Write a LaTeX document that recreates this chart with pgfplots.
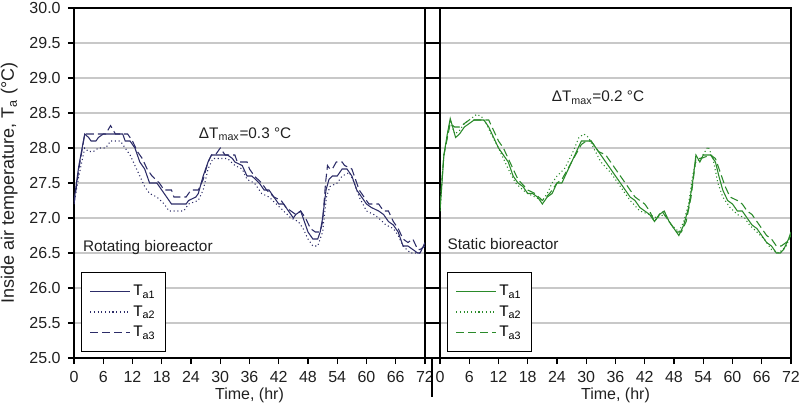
\documentclass[border=0pt]{standalone}
\usepackage{fontspec}
\setmainfont{Liberation Sans}
\usepackage{pgfplots}
\pgfplotsset{compat=1.18}

\definecolor{navyline}{HTML}{2C2C68}
\definecolor{greenline}{HTML}{2A8A2A}
\definecolor{gridgray}{HTML}{C8C8C8}
\definecolor{txt}{HTML}{202020}

\pgfplotstableread{
x y
0 27.23
0.5 27.5
1 27.75
2.2 28.2
3 28.15
3.5 28.1
4.5 28.1
5 28.15
6 28.2
10 28.2
10.5 28.1
11.5 28.1
12.5 28.0
13.5 27.8
14.5 27.7
15.5 27.5
17 27.5
18.5 27.35
19.5 27.25
20 27.2
23 27.2
23.5 27.25
25 27.3
25.5 27.35
26.5 27.6
27.5 27.8
28.2 27.9
31.5 27.9
32.5 27.85
33 27.8
34.5 27.75
35.5 27.6
36.5 27.6
38 27.5
39 27.4
40 27.4
41 27.3
42 27.2
43 27.2
44 27.1
45 27.0
45.5 27.05
46.5 27.1
47 27.0
48 26.8
49 26.7
50 26.7
50.5 26.8
51 27.0
51.7 27.4
52.3 27.55
53 27.6
54 27.6
55 27.7
56 27.7
57 27.6
58 27.4
59 27.3
60 27.2
61 27.15
62.5 27.1
63.5 27.05
64.5 26.95
65.5 26.9
66.5 26.8
67.5 26.6
68.5 26.6
69.5 26.55
70.5 26.5
71 26.5
72 26.65
}\rotA

\pgfplotstableread{
x y
0 27.2
1 27.6
2.2 28.0
3 27.95
4 27.95
5 28.0
6.5 28.0
7.5 28.1
9.5 28.1
10.5 28.0
11.5 27.9
12.5 27.75
13.5 27.6
14.5 27.45
15.5 27.35
17 27.3
18.5 27.2
19.5 27.1
22.5 27.1
23.5 27.2
25.5 27.25
26.5 27.4
27.5 27.7
28.5 27.85
31.5 27.85
33 27.75
34.5 27.7
35.5 27.55
37 27.5
38.5 27.35
40 27.3
41.5 27.2
43 27.1
44.5 27.0
46 26.95
47 26.85
48 26.7
49 26.6
50 26.6
51 26.8
51.8 27.3
52.5 27.45
54 27.5
55 27.6
56.5 27.65
57.5 27.5
58.5 27.3
60 27.1
61.5 27.05
62.5 27.0
64 26.9
65.5 26.85
66.5 26.75
67.5 26.6
69 26.5
71 26.5
}\rotB

\pgfplotstableread{
x y
0 27.2
1 27.7
2.2 28.2
3 28.2
5 28.2
6.5 28.2
7.5 28.32
8.5 28.2
11 28.2
12 28.1
13 27.95
14 27.85
15 27.7
16 27.6
17.5 27.5
18.5 27.4
20 27.4
20.5 27.3
23 27.3
24 27.4
25.5 27.4
26.5 27.55
27.5 27.8
28.2 27.9
29 27.9
30 28.0
31 27.9
33 27.9
33.5 27.8
35.5 27.8
36 27.7
37 27.6
38.5 27.5
39.5 27.4
41 27.3
42.5 27.25
43.5 27.15
44.5 27.1
45.5 27.05
46.5 27.1
47.5 27.0
48.5 26.85
49.5 26.8
50.5 26.8
51 26.95
51.6 27.5
52 27.75
52.5 27.7
53 27.7
53.8 27.8
55 27.8
55.5 27.75
57 27.7
57.5 27.6
58.5 27.4
59.5 27.3
60.5 27.2
62.5 27.2
63.5 27.1
64.5 27.1
65.5 26.95
66.5 26.85
67.5 26.7
68.5 26.65
69.5 26.7
70.5 26.55
71 26.55
72 26.6
}\rotC

\pgfplotstableread{
x y
0 27.1
0.3 27.4
0.8 27.9
1.5 28.2
2.1 28.42
2.6 28.3
3.2 28.15
4 28.2
5 28.3
6 28.35
7 28.4
9 28.4
10 28.3
11 28.15
12 28.0
13 27.9
14 27.8
15 27.6
16 27.5
17 27.45
18 27.35
19 27.35
20 27.3
21 27.2
22 27.3
23 27.35
24 27.5
25 27.5
26 27.65
27 27.8
28 27.95
29 28.1
31 28.1
32 28.0
33 27.9
34 27.8
35 27.7
36 27.6
37 27.5
38 27.4
39 27.3
40 27.25
41 27.15
42 27.1
43 27.05
44 26.95
45 27.05
46 27.1
47 26.95
48 26.85
49 26.75
50 26.9
51 27.15
51.8 27.5
52.5 27.9
53.3 27.8
54 27.9
55.5 27.9
56.5 27.8
57.2 27.6
58 27.4
59 27.25
60 27.2
61 27.1
62 27.1
63 27.0
64 26.9
65 26.85
66 26.75
67 26.65
68 26.6
69 26.5
69.8 26.5
70.5 26.55
71.5 26.7
72 26.8
}\staA

\pgfplotstableread{
x y
0 27.1
0.8 27.9
2.1 28.4
3 28.2
4 28.25
5 28.35
6 28.4
7.5 28.48
8.5 28.45
9.5 28.35
10.5 28.2
12 28.0
14 27.7
15.5 27.5
17 27.4
18 27.35
19.5 27.3
21 27.25
22 27.35
23 27.5
24 27.6
25.5 27.7
27 27.9
28.5 28.15
29.5 28.2
30.5 28.15
31.5 28.0
33 27.8
35 27.65
37 27.45
39 27.25
41 27.1
43 27.05
44.5 27.0
46 27.05
47.5 26.9
49 26.8
50 26.95
51 27.2
51.8 27.6
52.5 27.8
53.5 27.85
55 28.02
56 27.85
57 27.5
58 27.3
59.5 27.15
61 27.05
62.5 27.0
63.5 26.9
65 26.8
66.5 26.7
68 26.55
69.5 26.5
71 26.6
72 26.75
}\staB

\pgfplotstableread{
x y
0 27.2
0.8 27.9
2.1 28.35
3 28.3
4 28.3
5 28.35
6 28.4
9 28.4
10 28.4
11 28.25
12 28.1
13 28.0
14 27.85
15 27.7
16 27.55
18 27.4
19.5 27.35
21 27.25
22.5 27.35
24 27.5
25 27.55
27 27.8
29 28.05
30 28.1
31 28.1
32.5 27.95
34 27.9
36 27.7
38 27.5
40 27.3
41 27.25
42 27.2
43 27.1
44 26.95
45.5 27.1
47 26.95
48.5 26.8
49.5 26.8
50.5 26.95
51.5 27.3
52.5 27.85
53.5 27.85
55.5 27.9
56.5 27.85
57.5 27.65
58.5 27.45
59.5 27.3
61 27.25
62 27.2
63 27.1
64 27.05
65 26.95
66 26.85
67 26.75
68 26.7
69 26.6
70 26.6
71 26.65
72 26.75
}\staC

\pgfplotsset{
  panel/.style={
    scale only axis,
    width=263.25pt, height=262.5pt,
    xmin=0, xmax=72, ymin=25, ymax=30,
    xtick={0,6,...,72},
    ytick={25,25.5,...,30},
    ymajorgrids,
    grid style={gridgray, line width=0.8pt},
    tick align=outside,
    xtick pos=bottom, ytick pos=left,
    major tick length=4.5pt,
    axis line style={black, line width=0.8pt},
    tick style={black, line width=0.8pt},
    /pgf/number format/assume math mode=true,
    tick label style={font=\fontsize{12}{14}\selectfont, text=txt},
    label style={font=\fontsize{12}{14}\selectfont, text=txt},
    xticklabel style={yshift=-2pt},
    xlabel={Time, (hr)},
    xlabel style={yshift=3pt},
    legend cell align=left,
    legend style={at={(0.02,0.017)}, anchor=south west, draw=black,
      line width=0.8pt, font=\fontsize{11.5}{13}\selectfont,
      inner xsep=6pt, inner ysep=7.5pt, row sep=2pt},
    legend image code/.code={\draw[#1] (0pt,0pt) -- (30pt,0pt);},
  },
}

\begin{document}
\begin{tikzpicture}
\useasboundingbox (-55.5pt,-40.5pt) rectangle (544.5pt,268.5pt);
\begin{axis}[panel,
    at={(0pt,0pt)}, anchor=south west,
    ylabel={Inside air temperature, T\textsubscript{a} (°C)},
    ylabel style={yshift=2pt, font=\fontsize{13.5}{15}\selectfont},
    yticklabel style={xshift=-2pt, /pgf/number format/.cd, fixed, fixed zerofill, precision=1},
]
\addplot[navyline, line width=0.8pt] table[x=x,y=y] {\rotA};
\addlegendentry{T\textsubscript{a1}}
\addplot[navyline, line width=0.8pt, dotted] table[x=x,y=y] {\rotB};
\addlegendentry{T\textsubscript{a2}}
\addplot[navyline, line width=0.8pt, dash pattern=on 6pt off 3pt] table[x=x,y=y] {\rotC};
\addlegendentry{T\textsubscript{a3}}
\node[anchor=west, text=txt, font=\fontsize{11.5}{14}\selectfont] at (axis cs:0.9,26.58) {Rotating bioreactor};
\node[text=txt, font=\fontsize{11.5}{14}\selectfont] at (axis cs:35.1,28.2) {ΔT\textsubscript{max}=0.3 °C};
\end{axis}
\begin{axis}[panel,
    at={(274.5pt,0pt)}, anchor=south west,
    yticklabels={},
    ytick style={draw=none},
    extra y ticks={25,25.5,...,30},
    extra y tick labels={},
    extra y tick style={major tick length=11.5pt, grid=none, ytick style={draw=black, line width=0.8pt}},
]
\addplot[greenline, line width=0.8pt] table[x=x,y=y] {\staA};
\addlegendentry{T\textsubscript{a1}}
\addplot[greenline, line width=0.8pt, dotted] table[x=x,y=y] {\staB};
\addlegendentry{T\textsubscript{a2}}
\addplot[greenline, line width=0.8pt, dash pattern=on 6pt off 3pt] table[x=x,y=y] {\staC};
\addlegendentry{T\textsubscript{a3}}
\node[anchor=west, text=txt, font=\fontsize{11.5}{14}\selectfont] at (axis cs:0.6,26.63) {Static bioreactor};
\node[text=txt, font=\fontsize{11.5}{14}\selectfont] at (axis cs:32.4,28.72) {ΔT\textsubscript{max}=0.2 °C};
\end{axis}
\draw[black, line width=0.8pt] (268.5pt,0pt) -- (268.5pt,-29pt);
\end{tikzpicture}
\end{document}
